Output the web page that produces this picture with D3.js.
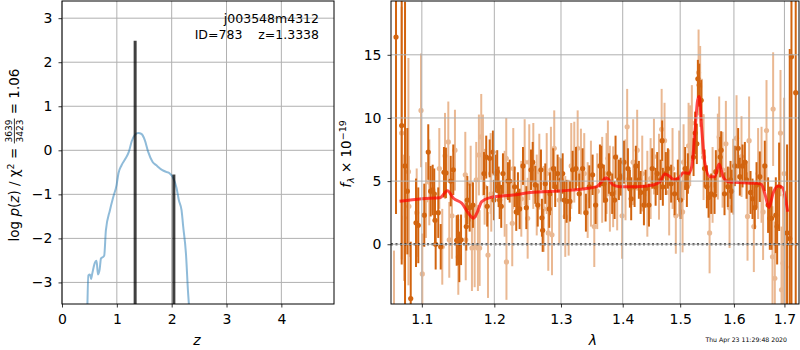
<!DOCTYPE html>
<html>
<head>
<meta charset="utf-8">
<script src="https://cdn.jsdelivr.net/npm/d3@7"></script>
<style>
  body { margin: 0; background: #fff; }
  svg { display: block; font-family: "DejaVu Sans", sans-serif; }
</style>
</head>
<body>
<svg id="fig" width="800" height="350"></svg>
<script>
// redshift panel
const pzZ = [0.462,0.480,0.51,0.53,0.55,0.59,0.63,0.656,0.686,0.71,0.74,0.77,0.80,0.874,0.935,0.995,1.03,1.086,1.147,1.22,1.27,1.33,1.39,1.45,1.51,1.57,1.65,1.72,1.83,1.90,1.96,2.02,2.09,2.13,2.18,2.21,2.26,2.30,2.32];
const pzLog = [-3.6,-2.84,-2.82,-2.92,-2.81,-2.59,-2.51,-2.82,-2.71,-2.46,-2.43,-2.39,-1.82,-1.36,-1.06,-0.79,-0.52,-0.34,-0.21,-0.03,0.20,0.35,0.39,0.37,0.23,-0.03,-0.26,-0.34,-0.45,-0.49,-0.52,-0.61,-0.86,-1.13,-1.36,-1.73,-2.34,-3.25,-3.6];
const peakZ = [1.3338, 2.04];
const peakTop = [2.49, -0.55];
const zTicks = [0, 1, 2, 3, 4];
const pTicks = [-3, -2, -1, 0, 1, 2, 3];

// spectrum panel, darker spectrum
const darkLam = [1.0664,1.0737,1.078,1.081,1.0854,1.0923,1.0953,1.1032,1.1085,1.1117,
    1.1144,1.1165,1.1175,1.1184,1.1219,1.1252,1.1296,1.1323,1.1388,1.1423,
    1.147,1.149,1.1506,1.153,1.1603,1.1617,1.165,1.1696,1.1852,1.1884,
    1.1898,1.1933,1.198,1.1994,1.2019,1.2042,1.2062,1.2077,1.2100,1.2125,
    1.2198,1.2223,1.2296,1.232,1.2345,1.237,1.242,1.247,1.254,1.2566,
    1.2605,1.2642,1.2691,1.2706,1.2717,1.2757,1.2818,1.2829,1.2879,1.291,
    1.2947,1.2999,1.3026,1.3051,1.3088,1.3141,1.3183,1.3236,1.3288,1.3342,
    1.3395,1.3449,1.3503,1.3552,1.3622,1.3643,1.3687,1.3715,1.377,1.3824,
    1.3864,1.388,1.3936,1.3965,1.4020,1.4088,1.4121,1.4143,1.4201,1.4223,
    1.4274,1.4304,1.4361,1.439,1.4448,1.4505,1.4564,1.4592,1.4651,1.4679,
    1.4691,1.4744,1.4780,1.4838,1.4899,1.4958,1.5006,1.5090,1.5121,1.5139,
    1.5243,1.5272,1.5303,1.5322,1.5346,1.5383,1.5446,1.5489,1.552,1.5569,
    1.5632,1.5656,1.5737,1.5756,1.582,1.5883,1.5935,1.5954,1.6017,1.6081,
    1.6114,1.6166,1.6211,1.6244,1.6322,1.6361,1.6406,1.644,1.6505,1.6604,
    1.667,1.6704,1.6738,1.6825,1.6852,1.6892,1.7054,1.7109,1.7144,1.7232];
const darkFlux = [16.4,9.4,6.2,4.2,-4.3,1.7,1.5,2.3,7.3,4.2,
    4.3,4.0,1.9,0.0,2.5,-0.2,5.7,5.65,5.0,5.9,
    0.3,0.35,-1.0,0.35,1.4,3.5,2.9,3.1,5.6,6.9,
    3.0,6.8,7.3,3.5,5.6,5.75,4.55,3.5,3.0,5.6,
    5.0,5.0,4.55,2.56,4.0,2.8,6.2,2.9,5.9,6.5,
    4.7,3.1,5.9,2.1,1.1,4.8,2.8,4.0,6.0,4.55,
    5.6,5.1,5.6,3.5,3.4,3.4,5.9,6.0,4.0,6.0,
    2.5,4.55,5.5,3.1,6.2,6.2,4.8,3.5,5.6,4.0,
    3.5,6.9,5.1,5.35,6.5,6.0,4.4,3.6,4.55,6.2,
    5.1,4.1,3.1,4.4,3.1,6.0,4.55,5.6,5.1,8.2,
    4.55,5.6,6.0,4.8,4.0,5.1,3.5,6.0,4.55,5.6,
    6.9,8.8,7.95,13.1,12.6,11.4,6.0,4.55,3.7,4.0,
    3.9,5.75,6.9,7.45,4.0,4.55,5.1,4.2,6.2,7.6,
    5.35,6.2,6.5,5.1,4.1,3.6,2.9,4.7,5.35,6.2,
    3.1,2.06,2.06,2.3,1.4,4.55,0.9,0.45,14.85,12.0];
const darkErr = [14,11,13,5,4.5,3.5,3,2.5,2.2,2,
    2,2,2,2,2,1.8,2,2,2,2,
    2,2,2,2,1.9,1.9,1.9,1.8,1.7,1.7,
    1.6,1.5,1.7,1.6,1.5,1.7,1.6,1.5,1.7,1.6,
    1.5,1.7,1.6,1.5,1.7,1.6,1.5,1.7,1.6,1.6,
    1.5,1.7,1.6,1.5,1.7,1.6,1.5,1.7,1.6,1.6,
    1.5,1.7,1.6,1.5,1.7,1.6,1.5,1.7,1.6,1.6,
    1.5,1.7,1.6,1.5,1.7,1.6,1.5,1.7,1.6,1.6,
    1.5,1.7,1.6,1.5,1.7,1.6,1.5,1.7,1.6,1.6,
    1.5,1.7,1.6,1.5,1.7,1.6,1.5,1.7,1.6,1.6,
    1.5,1.7,1.6,1.5,1.7,1.6,1.5,1.7,1.6,1.6,
    1.5,1.7,1.6,1.5,1.7,1.6,1.5,1.7,1.6,1.6,
    1.5,1.7,1.6,1.5,1.7,1.6,1.5,1.7,1.6,1.6,
    1.5,1.7,1.6,1.5,1.7,1.6,1.7,1.8,2.0,2.0,
    2.2,2.5,2.5,3,3,3.5,7,15,20,25];

// spectrum panel, lighter spectrum
const lightLam = [1.0638,1.0737,1.0767,1.0824,1.0830,1.0932,1.0989,1.1006,1.1055,1.1099,
    1.1233,1.1273,1.1310,1.1355,1.1368,1.1405,1.1446,1.1492,1.1589,1.1595,
    1.1664,1.1682,1.172,1.1742,1.1766,1.178,1.179,1.1813,1.1837,1.1861,
    1.1909,1.1947,1.1956,1.215,1.2173,1.2176,1.2261,1.2276,1.2395,1.2445,
    1.249,1.2514,1.2575,1.2627,1.2666,1.2733,1.2779,1.2803,1.2844,1.286,
    1.2895,1.2973,1.3067,1.312,1.3161,1.3209,1.3263,1.3315,1.3368,1.3423,
    1.3476,1.3530,1.3578,1.3659,1.3731,1.3753,1.3786,1.384,1.3907,1.399,
    1.4047,1.4075,1.4177,1.4245,1.4332,1.442,1.4477,1.4535,1.4623,1.4670,
    1.4721,1.4803,1.4863,1.4922,1.4982,1.5043,1.5061,1.5152,1.5181,1.5212,
    1.5335,1.5364,1.5396,1.5427,1.5539,1.5595,1.5694,1.5719,1.5783,1.5846,
    1.5916,1.5984,1.605,1.6146,1.6263,1.6294,1.6387,1.6471,1.6539,1.657,
    1.6638,1.6758,1.6771,1.6805,1.692,1.6941,1.6973,1.6994,1.7028];
const lightFlux = [-6,8.8,2.1,5.75,3.0,2.5,10.6,-2.35,3.5,4.9,
    6.0,-0.2,7.0,8.1,0.35,2.25,7.45,-1.0,5.5,0.35,
    4.8,-0.3,-0.2,5.1,-0.3,7.07,-0.3,8.5,7.07,4.55,
    -0.85,5.6,4.0,4.0,6.8,-1.4,1.66,6.0,3.6,6.5,
    2.06,6.5,6.2,3.9,5.75,2.8,5.6,0.9,5.9,0.75,
    7.6,3.5,2.2,2.1,6.2,6.5,7.6,5.75,5.6,3.5,
    4.8,1.4,4.2,5.1,5.6,6.8,4.4,4.55,4.1,2.25,
    5.1,9.3,6.5,7.45,5.6,4.0,5.2,6.94,5.35,9.1,
    8.2,4.1,6.0,2.25,5.6,2.56,6.5,7.8,7.8,9.6,
    13.6,12.5,10.1,6.9,0.9,4.7,6.94,8.5,5.9,7.95,
    2.9,5.35,8.4,6.94,2.2,8.2,1.4,5.6,5.5,2.56,
    9.0,-0.99,10.7,-2.7,8.8,-3.6,-1.5,5.6,-1.8];
const lightErr = [5.5,10,5,9,4,3.5,4.5,3.2,3.0,3.4,
    3.2,3.0,3.4,3.2,3.0,3.4,3.2,3.0,3.4,3.2,
    3.0,3.4,3.2,3.0,3.4,3.2,3.0,3.4,3.2,3.0,
    3.4,3.2,3.0,3.4,3.2,3.0,3.4,3.2,3.0,3.4,
    3.2,3.0,3.4,3.2,3.0,3.4,3.2,3.0,3.4,3.2,
    3.0,3.4,3.2,3.0,3.4,3.2,3.0,3.4,3.2,3.0,
    3.4,3.2,3.0,3.4,3.2,3.0,3.4,3.2,3.0,3.4,
    3.2,3.0,3.4,3.2,3.0,3.4,3.2,3.0,3.4,3.2,
    3.0,3.4,3.2,3.0,3.4,3.2,3.0,3.4,3.2,3.0,
    3.4,3.2,3.0,3.4,3.2,3.0,3.4,3.2,3.0,3.4,
    3.2,3.0,3.4,3.2,3.5,3.5,3.6,3.6,3.8,3.8,
    4,4,4.5,4.5,5,5,5.5,6,6];

// best-fit model
const modelLam = [1.0709,1.100,1.1244,1.1343,1.1425,1.1541,1.1633,1.1702,1.175,1.182,1.1938,1.2276,1.2526,1.3035,1.3352,1.3569,1.365,1.372,1.3774,1.384,1.3952,1.4235,1.4521,1.4639,1.4727,1.4804,1.4876,1.4968,1.5058,1.5149,1.5211,1.527,1.5319,1.5349,1.539,1.5452,1.5544,1.5638,1.5717,1.5793,1.5888,1.6176,1.6439,1.6537,1.6603,1.6688,1.6769,1.687,1.6959,1.7026,1.7068];
const modelFlux = [3.40,3.61,3.69,4.24,3.64,3.24,2.45,2.06,2.45,3.37,3.69,3.90,4.09,4.24,4.38,4.56,4.95,5.27,5.08,4.69,4.56,4.56,4.69,4.95,5.56,5.40,5.14,5.22,5.67,5.61,6.14,9.05,11.43,11.69,9.32,6.41,5.35,5.35,6.35,5.35,4.95,4.87,4.82,4.74,4.03,2.92,4.03,4.61,4.50,3.51,2.58];
const lamTicks = [1.1, 1.2, 1.3, 1.4, 1.5, 1.6, 1.7];
const fluxTicks = [0, 5, 10, 15];

const darkColor = '#d2640f';
const gridColor = '#b0b0b0';

const svg = d3.select('#fig');

function addClip(id, x0, x1, y0, y1) {
    svg.append('clipPath').attr('id', id)
        .append('rect').attr('x', x0).attr('y', y0)
        .attr('width', x1 - x0).attr('height', y1 - y0);
}

function drawGrid(x, y, xt, yt) {
    const [x0, x1] = x.range();
    const [y1, y0] = y.range();
    const g = svg.append('g');
    g.selectAll('.gx').data(xt).join('line')
        .attr('x1', d => x(d)).attr('x2', d => x(d))
        .attr('y1', y0).attr('y2', y1)
        .attr('stroke', gridColor).attr('stroke-width', 1);
    g.selectAll('.gy').data(yt).join('line')
        .attr('x1', x0).attr('x2', x1)
        .attr('y1', d => y(d)).attr('y2', d => y(d))
        .attr('stroke', gridColor).attr('stroke-width', 1);
}

function drawAxes(x, y, xt, yt, fmtX, fmtY) {
    const [x0, x1] = x.range();
    const [y1, y0] = y.range();
    const gx = svg.append('g').attr('transform', `translate(0,${y1})`)
        .call(d3.axisBottom(x).tickValues(xt).tickFormat(fmtX).tickSize(3.5).tickPadding(6.5).tickSizeOuter(0));
    const gy = svg.append('g').attr('transform', `translate(${x0},0)`)
        .call(d3.axisLeft(y).tickValues(yt).tickFormat(fmtY).tickSize(3.5).tickPadding(6).tickSizeOuter(0));
    [gx, gy].forEach(a => {
        a.select('.domain').remove();
        a.attr('font-size', null).attr('font-family', null);
        a.selectAll('text').style('font-size', '14px').style('fill', '#000')
            .style('font-family', '"DejaVu Sans", sans-serif');
        a.selectAll('line').attr('stroke', '#000').attr('stroke-width', 0.8);
    });
    svg.append('rect').attr('x', x0).attr('y', y0)
        .attr('width', x1 - x0).attr('height', y1 - y0)
        .attr('fill', 'none').attr('stroke', '#000').attr('stroke-width', 1);
}

// ---------- left: p(z) ----------
const xz = d3.scaleLinear().domain([0, 4.96]).range([62, 334]);
const yp = d3.scaleLinear().domain([-3.49, 3.39]).range([304, 1]);
addClip('clipL', 62, 334, 1, 304);

drawGrid(xz, yp, zTicks, pTicks);
const left = svg.append('g').attr('clip-path', 'url(#clipL)');
left.append('path')
    .datum(d3.zip(pzZ, pzLog))
    .attr('d', d3.line().x(d => xz(d[0])).y(d => yp(d[1])).curve(d3.curveMonotoneX))
    .attr('fill', 'none').attr('stroke', '#1f77b4').attr('stroke-opacity', 0.5).attr('stroke-width', 2);
left.selectAll('.peak').data(d3.zip(peakZ, peakTop)).join('line')
    .attr('x1', d => xz(d[0])).attr('x2', d => xz(d[0]))
    .attr('y1', yp(-3.6)).attr('y2', d => yp(d[1]))
    .attr('stroke', '#000').attr('stroke-opacity', 0.75).attr('stroke-width', 3);
drawAxes(xz, yp, zTicks, pTicks, d3.format('d'), d3.format('d'));

svg.append('text').attr('x', 319).attr('y', 23).attr('text-anchor', 'end')
    .attr('font-size', 12.5).attr('fill', '#000').text('j003548m4312');
svg.append('text').attr('x', 319).attr('y', 39).attr('text-anchor', 'end')
    .attr('font-size', 12.5).attr('fill', '#000').attr('xml:space', 'preserve').text('ID=783    z=1.3338');

svg.append('text').attr('x', 197).attr('y', 345).attr('text-anchor', 'middle')
    .attr('font-size', 14).attr('font-style', 'italic').text('z');

// left y label with a small fraction
const yl = svg.append('g').attr('transform', 'translate(19,155) rotate(-90)');
const partA = yl.append('text').attr('font-size', 13.5);
partA.append('tspan').text('log ');
partA.append('tspan').attr('font-style', 'italic').text('p');
partA.append('tspan').text('(');
partA.append('tspan').attr('font-style', 'italic').text('z');
partA.append('tspan').text(') / \u03c7');
partA.append('tspan').attr('font-size', 9.5).attr('dy', -5.5).text('2');
partA.append('tspan').attr('dy', 5.5).attr('xml:space', 'preserve').text(' = ');
const num = yl.append('text').attr('font-size', 9).attr('text-anchor', 'middle').text('3639');
const den = yl.append('text').attr('font-size', 9).attr('text-anchor', 'middle').text('3423');
const partC = yl.append('text').attr('font-size', 13.5).attr('xml:space', 'preserve').text(' = 1.06');
const wA = partA.node().getComputedTextLength();
const wF = Math.max(num.node().getComputedTextLength(), den.node().getComputedTextLength()) + 2;
const wC = partC.node().getComputedTextLength();
const start = -(wA + wF + wC) / 2;
partA.attr('x', start);
num.attr('x', start + wA + wF / 2).attr('y', -6.8);
den.attr('x', start + wA + wF / 2).attr('y', 3.8);
yl.append('line').attr('x1', start + wA).attr('x2', start + wA + wF)
    .attr('y1', -4.6).attr('y2', -4.6).attr('stroke', '#000').attr('stroke-width', 0.8);
partC.attr('x', start + wA + wF);

// ---------- right: spectrum ----------
const xl = d3.scaleLog().domain([1.06, 1.73]).range([391, 799]);
const yf = d3.scaleLinear().domain([-4.73, 19.26]).range([304, 1]);
addClip('clipR', 391, 799, 1, 304);

const right = svg.append('g').attr('clip-path', 'url(#clipR)');

function drawSpec(lam, flux, err, opacity) {
    const rows = d3.zip(lam, flux, err);
    const g = right.append('g').attr('opacity', opacity);
    g.selectAll('line').data(rows).join('line')
        .attr('x1', d => xl(d[0])).attr('x2', d => xl(d[0]))
        .attr('y1', d => yf(d[1] - d[2])).attr('y2', d => yf(d[1] + d[2]))
        .attr('stroke', darkColor).attr('stroke-width', 2);
    g.selectAll('circle').data(rows).join('circle')
        .attr('cx', d => xl(d[0])).attr('cy', d => yf(d[1]))
        .attr('r', 2.6).attr('fill', darkColor);
}
drawSpec(lightLam, lightFlux, lightErr, 0.45);
drawSpec(darkLam, darkFlux, darkErr, 1);

right.append('path')
    .datum(d3.zip(modelLam, modelFlux))
    .attr('d', d3.line().x(d => xl(d[0])).y(d => yf(d[1])).curve(d3.curveMonotoneX))
    .attr('fill', 'none').attr('stroke', '#ff0000').attr('stroke-opacity', 0.7)
    .attr('stroke-width', 3).attr('stroke-linejoin', 'round');

drawGrid(xl, yf, lamTicks, fluxTicks);
right.append('line')
    .attr('x1', xl.range()[0]).attr('x2', xl.range()[1])
    .attr('y1', yf(0)).attr('y2', yf(0))
    .attr('stroke', '#000').attr('stroke-width', 2).attr('stroke-dasharray', '2,2.5');
drawAxes(xl, yf, lamTicks, fluxTicks, d3.format('.1f'), d3.format('d'));

svg.append('text').attr('x', 593).attr('y', 345).attr('text-anchor', 'middle')
    .attr('font-size', 14).attr('font-style', 'italic').text('\u03bb');

const yr = svg.append('text').attr('transform', 'translate(351,154) rotate(-90)')
    .attr('text-anchor', 'middle').attr('font-size', 13.5);
yr.append('tspan').attr('font-style', 'italic').text('f');
yr.append('tspan').attr('font-size', 9.5).attr('dy', 3).attr('font-style', 'italic').text('\u03bb');
yr.append('tspan').attr('dy', -3).attr('xml:space', 'preserve').text(' \u00d7 10');
yr.append('tspan').attr('font-size', 9.5).attr('dy', -5.5).text('\u221219');

svg.append('text').attr('x', 787).attr('y', 342).attr('text-anchor', 'end')
    .attr('font-size', 6.2).attr('fill', '#000').text('Thu Apr 23 11:29:48 2020');
</script>
</body>
</html>
